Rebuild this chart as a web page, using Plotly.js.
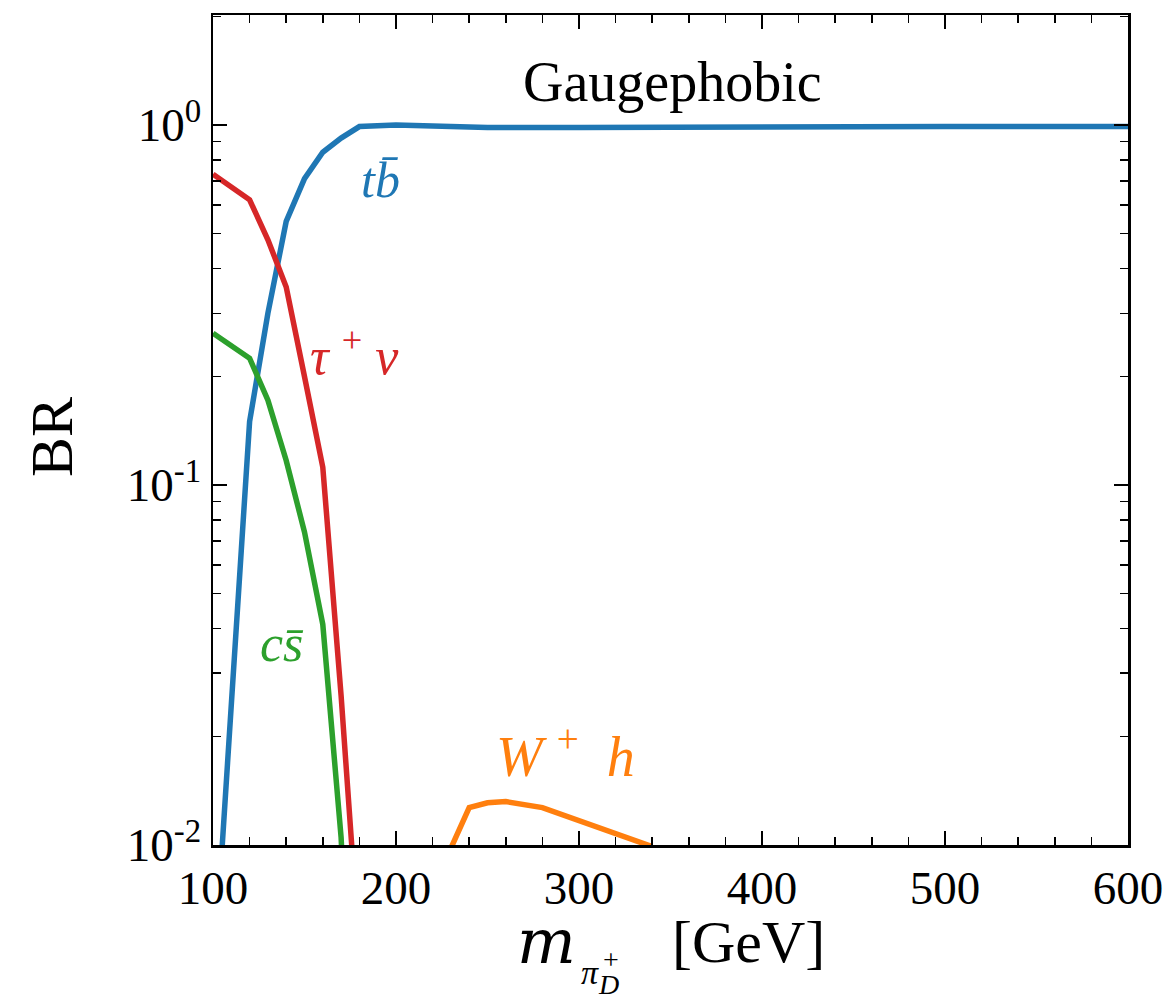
<!DOCTYPE html>
<html>
<head>
<meta charset="utf-8">
<script src="https://cdn.plot.ly/plotly-3.0.1.min.js"></script>
<style>html,body{margin:0;padding:0;background:#fff;}#chart{width:1168px;height:1003px;}</style>
</head>
<body>
<div id="chart"></div>
<script>
// ---- data ----
const massTB  = [100, 120, 130, 140, 150, 160, 170, 180, 200, 250, 300, 400, 500, 600];
const brTB    = [0.004, 0.15, 0.30, 0.54, 0.71, 0.84, 0.92, 0.99, 1.0, 0.985, 0.985, 0.99, 0.99, 0.99];

const massTau = [100, 120, 130, 140, 150, 160, 170, 180];
const brTau   = [0.73, 0.62, 0.48, 0.355, 0.20, 0.112, 0.026, 0.005];

const massCS  = [100, 120, 130, 140, 150, 160, 170, 180];
const brCS    = [0.264, 0.225, 0.172, 0.117, 0.074, 0.041, 0.0105, 0.001];

const massWH  = [230, 240, 250, 260, 280, 300, 320, 340];
const brWH    = [0.0098, 0.0127, 0.0131, 0.0132, 0.0127, 0.0117, 0.0108, 0.0099];

const yTickVals = [0.01, 0.1, 1];
const yTickText = ["10<sup>-2</sup>", "10<sup>-1</sup>", "10<sup>0</sup>"];
const xTickVals = [100, 200, 300, 400, 500, 600];

// minor log ticks 2..9 of each decade
const yMinor = [];
[0.01, 0.1, 1].forEach(d => { for (let k = 2; k <= 9; k++) yMinor.push(d * k); });

const FONT = "Liberation Serif, Times New Roman, serif";
const FONT_M = "DejaVu Serif, serif";
const C_BLUE = "#1f77b4", C_ORANGE = "#ff7f0e", C_GREEN = "#2ca02c", C_RED = "#d62728";
const LW = 5.5;

const traces = [
  {x: massTB,  y: brTB,  mode: "lines", line: {color: C_BLUE,   width: LW}},
  {x: massTau, y: brTau, mode: "lines", line: {color: C_RED,    width: LW}},
  {x: massCS,  y: brCS,  mode: "lines", line: {color: C_GREEN,  width: LW}},
  {x: massWH,  y: brWH,  mode: "lines", line: {color: C_ORANGE, width: LW}}
];

// plot area in pixels: left 213, right 1128, top 15, bottom 845
const L = 213, R = 1128, T = 15, B = 845;
const px = v => (v - L) / (R - L);
const py = v => (B - v) / (B - T);

function ann(text, x, y, size, color, opts, family) {
  return Object.assign({
    text: text, xref: "paper", yref: "paper", x: px(x), y: py(y),
    showarrow: false, xanchor: "center", yanchor: "middle",
    font: {family: family || FONT, size: size, color: color || "#000"}
  }, opts || {});
}

const annotations = [
  ann("Gaugephobic", 672, 82, 56),
  ann("<i>tb\u0304</i>", 380, 180, 50, C_BLUE),
  ann("<i>τ</i> <sup>+</sup> <i>ν</i>", 354, 352, 52, C_RED),
  ann("<i>cs\u0304</i>", 282, 643, 52, C_GREEN),
  ann("<i>W</i> <sup>+</sup>  <i>h</i>", 565, 752, 56, C_ORANGE),
  // x-axis title pieces
  ann("<i>m</i>", 578, 941, 62, "#000", {xanchor: "right"}, FONT_M),
  ann("<i>π</i>", 579, 972, 34, "#000", {xanchor: "left"}),
  ann("+", 611, 959, 28, "#000"),
  ann("<i>D</i>", 596, 984, 28, "#000", {xanchor: "left"}),
  ann("[GeV]", 670, 942, 60, "#000", {xanchor: "left"}),
  // y-axis title
  ann("BR", 52, 437, 60, "#000", {textangle: -90})
];

const layout = {
  width: 1168, height: 1003,
  margin: {l: L, r: 1168 - R, t: T, b: 1003 - B, pad: 0},
  paper_bgcolor: "#fff", plot_bgcolor: "#fff",
  showlegend: false,
  font: {family: FONT, color: "#000"},
  xaxis: {
    type: "linear", range: [100, 600],
    tickmode: "array", tickvals: xTickVals,
    ticks: "inside", ticklen: 14, tickwidth: 2, tickcolor: "#000",
    minor: {ticks: "inside", ticklen: 8, tickwidth: 1.5, tickcolor: "#000", dtick: 20, tick0: 100},
    showline: true, linewidth: 2.5, linecolor: "#000", mirror: "allticks",
    showgrid: false, zeroline: false,
    tickfont: {family: FONT, size: 47, color: "#000"}
  },
  yaxis: {
    type: "log", range: [-2, 0.3056],
    tickmode: "array", tickvals: yTickVals, ticktext: yTickText,
    ticks: "inside", ticklen: 14, tickwidth: 2, tickcolor: "#000",
    minor: {ticks: "inside", ticklen: 8, tickwidth: 1.5, tickcolor: "#000", tickmode: "array", tickvals: yMinor},
    showline: true, linewidth: 2.5, linecolor: "#000", mirror: "allticks",
    showgrid: false, zeroline: false,
    tickfont: {family: FONT, size: 47, color: "#000"}
  },
  annotations: annotations
};

Plotly.newPlot("chart", traces, layout, {displayModeBar: false, staticPlot: true});
</script>
</body>
</html>
